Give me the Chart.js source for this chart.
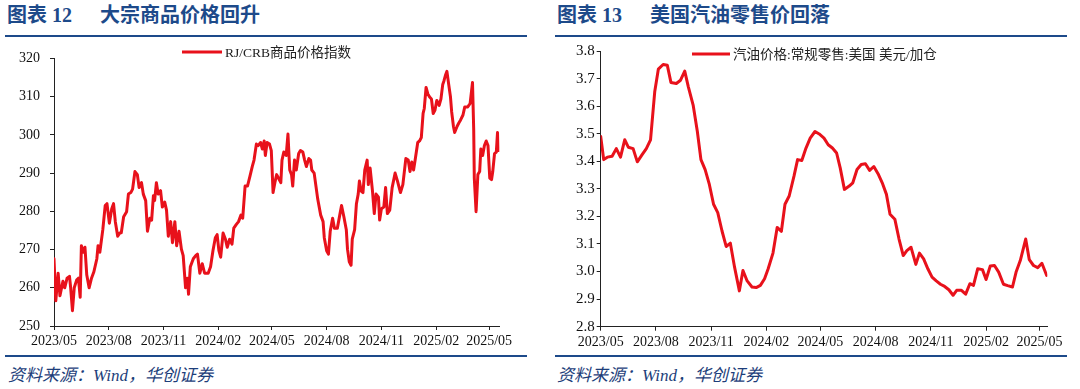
<!DOCTYPE html>
<html><head><meta charset="utf-8">
<script src="https://cdn.jsdelivr.net/npm/chart.js@4/dist/chart.umd.min.js"></script>
<style>
html,body{margin:0;padding:0;background:#fff;}
body{width:1080px;height:389px;position:relative;overflow:hidden;}
.t{position:absolute;top:5px;line-height:20px;font-weight:bold;font-size:20px;color:#1d4a8a;font-family:'Liberation Serif','Noto Sans CJK SC',serif;white-space:nowrap;}
.rule{position:absolute;height:2px;background:#1d4a8a;}
.src{position:absolute;top:366px;line-height:20px;font-size:17px;font-style:italic;color:#1d3e7a;font-family:'Liberation Serif','Noto Sans CJK SC',serif;white-space:nowrap;}
.box{position:absolute;top:40px;width:540px;height:315px;}
</style></head>
<body>
<div class="t" style="left:7px">图表 12</div>
<div class="t" style="left:100px">大宗商品价格回升</div>
<div class="t" style="left:557px">图表 13</div>
<div class="t" style="left:650px">美国汽油零售价回落</div>
<div class="rule" style="left:5px;width:522px;top:35px"></div>
<div class="rule" style="left:555px;width:512px;top:35px"></div>
<div class="rule" style="left:5px;width:522px;top:355px"></div>
<div class="rule" style="left:555px;width:512px;top:355px"></div>
<div class="src" style="left:8px">资料来源：Wind，华创证券</div>
<div class="src" style="left:557px">资料来源：Wind，华创证券</div>
<div class="box" style="left:0"><canvas id="c1" width="540" height="315"></canvas></div>
<div class="box" style="left:540px"><canvas id="c2" width="540" height="315"></canvas></div>
<script>
// Tick labels (quarterly)
const tickLabels = ['2023/05','2023/08','2023/11','2024/02','2024/05','2024/08','2024/11','2025/02','2025/05'];

// RJ/CRB commodity index — x = days since 2023-05-01
const rjLabel = 'RJ/CRB商品价格指数';
const rjDays = [0,3,7,10,15,18,22,26,28,31,34,38,41,44,46,49,52,55,59,63,67,72,74,77,82,86,89,93,97,100,103,107,111,113,117,122,125,129,132,136,140,143,147,150,154,157,161,164,167,169,172,175,179,182,186,189,192,196,199,203,206,210,214,217,221,224,226,229,234,238,241,245,249,253,259,263,267,271,274,277,280,284,288,291,295,299,302,306,310,314,317,321,325,329,333,336,340,343,347,350,353,355,358,362,365,368,371,374,377,381,383,386,390,393,396,399,401,404,407,411,414,418,421,424,428,431,433,437,440,443,448,452,454,458,461,464,468,471,476,480,483,487,491,493,496,499,501,505,508,511,513,516,519,522,526,528,531,535,538,541,545,547,550,554,557,560,564,568,573,577,582,586,591,595,598,601,604,607,611,614,617,620,622,625,628,631,634,637,640,643,647,650,653,655,658,660,663,666,668,671,673,677,680,683,687,690,695,699,703,705,706,709,712,715,717,720,723,726,729,732,735,737,740,743,745,747];
const rjValues = [267.6,256.6,263.8,257.9,261.7,260.0,262.5,263.0,260.0,254.0,260.0,262.0,262.5,257.5,271.0,269.3,270.6,263.4,260.0,262.5,264.2,267.6,271.0,269.3,275.2,281.5,282.0,276.9,280.7,282.0,277.3,273.5,274.4,274.4,278.6,279.9,284.5,284.9,285.8,290.4,289.6,286.2,287.5,284.5,282.8,274.8,278.2,277.7,284.1,282.8,287.5,284.5,285.4,281.1,282.4,280.3,273.5,277.3,271.8,277.3,271.0,274.8,270.1,268.4,260.0,262.5,258.3,265.5,267.6,268.4,268.8,263.8,266.3,263.8,263.8,265.5,269.7,273.1,273.9,269.7,268.0,274.3,272.7,270.6,272.7,271.4,275.6,276.5,277.3,279.0,278.2,286.6,286.6,289.1,291.7,293.4,297.6,297.2,298.0,296.3,298.4,294.6,298.0,297.6,295.9,284.9,287.5,289.6,288.7,287.5,293.4,295.5,294.6,300.2,290.8,289.6,286.6,293.4,290.8,295.1,295.9,295.5,293.4,291.7,293.8,293.4,290.8,290.0,286.6,283.2,279.0,277.3,273.1,269.7,268.8,274.8,278.2,275.6,275.6,279.0,281.5,278.5,275.2,270.1,266.8,265.9,272.7,275.2,282.0,284.5,287.9,285.3,284.9,290.8,293.4,287.0,291.3,285.3,279.4,284.5,283.7,277.7,280.7,281.1,286.2,279.4,280.3,286.2,290.0,287.9,284.9,287.0,293.8,293.4,290.4,292.9,290.8,293.8,298.0,298.4,299.3,305.6,306.9,312.4,310.7,309.9,309.4,305.6,306.5,309.0,307.7,309.4,313.2,314.1,315.8,316.6,313.2,309.9,306.0,302.2,300.6,302.2,303.1,303.9,305.2,307.3,307.3,308.2,313.7,301.4,288.7,279.9,289.6,290.4,296.3,294.6,297.2,298.4,297.2,288.7,288.3,290.4,295.1,295.5,300.6,295.9];

// US regular gasoline retail price (USD/gal) — x = days since 2023-05-01
const gasLabel = '汽油价格:常规零售:美国 美元/加仓';
const gasDays = [0,5,11,19,26,33,40,46,54,61,69,76,83,90,96,104,111,117,126,133,140,146,154,161,167,174,181,188,195,202,209,216,223,231,237,244,252,259,266,273,279,287,294,301,307,314,322,328,335,342,349,357,364,372,379,386,393,399,406,414,420,427,434,441,448,455,462,469,476,482,490,497,504,510,517,525,531,538,545,552,559,566,573,580,587,593,601,608,615,621,628,636,642,649,656,663,671,678,686,692,699,708,714,721,728,735,743];
const gasValues = [3.490,3.406,3.415,3.418,3.446,3.415,3.478,3.451,3.446,3.398,3.424,3.446,3.478,3.652,3.734,3.751,3.748,3.686,3.682,3.694,3.727,3.670,3.604,3.508,3.406,3.370,3.316,3.244,3.214,3.148,3.091,3.103,3.016,2.930,3.004,2.966,2.944,2.942,2.950,2.974,3.010,3.067,3.160,3.146,3.244,3.274,3.346,3.406,3.403,3.448,3.484,3.508,3.499,3.484,3.460,3.448,3.430,3.376,3.298,3.310,3.322,3.370,3.388,3.391,3.367,3.381,3.355,3.322,3.280,3.208,3.190,3.118,3.058,3.076,3.088,3.026,3.067,3.046,3.010,2.980,2.966,2.954,2.946,2.934,2.914,2.932,2.932,2.918,2.956,2.950,3.010,3.007,2.971,3.020,3.022,2.998,2.954,2.949,2.944,2.998,3.040,3.118,3.043,3.022,3.014,3.030,2.986];

function labelToDay(l){
  const p = l.split('/').map(Number);
  return Math.round((Date.UTC(p[0], p[1]-1, 1) - Date.UTC(2023, 4, 1)) / 86400000);
}
const tickDays = tickLabels.map(labelToDay);

const RED = '#E8111B';
const TICK_FONT = {family:"'Liberation Serif', 'Times New Roman', serif", size:14};

const lineLegend = {
  id:'lineLegend',
  afterDraw(chart, args, o){
    const ctx = chart.ctx, ds = chart.data.datasets[0];
    ctx.save();
    ctx.strokeStyle = ds.borderColor; ctx.lineWidth = 3;
    ctx.beginPath(); ctx.moveTo(o.x1, o.y); ctx.lineTo(o.x2, o.y); ctx.stroke();
    ctx.fillStyle = '#222';
    ctx.font = "13.5px 'Liberation Serif', 'Noto Sans CJK SC', serif";
    ctx.textBaseline = 'middle'; ctx.textAlign = 'left';
    ctx.fillText(ds.label, o.x2 + 3, o.y + 1);
    ctx.restore();
  }
};

function makeChart(id, label, days, values, c){
  return new Chart(document.getElementById(id), {
    type:'line',
    data:{datasets:[{label, data: days.map((d,i)=>({x:d, y:values[i]})), borderColor:RED, backgroundColor:RED,
      borderWidth:3, pointRadius:0, tension:0, borderJoinStyle:'round', borderCapStyle:'round', fill:false}]},
    options:{
      responsive:false, animation:false, devicePixelRatio:1,
      layout:{padding:{top:c.top, right:c.right, left:0, bottom:0}},
      plugins:{legend:{display:false}, tooltip:{enabled:false}, lineLegend:c.legend},
      scales:{
        x:{type:'linear', min:0, max:c.xMax,
          afterBuildTicks:s=>{ s.ticks = tickDays.map(v=>({value:v})); },
          afterFit:s=>{ s.height = c.xH; },
          grid:{drawOnChartArea:false, drawTicks:true, tickLength:4, color:'#222'},
          border:{display:true, color:'#222', width:1},
          ticks:{font:TICK_FONT, color:'#111', padding:3, maxRotation:0, autoSkip:false,
            callback:(v,i)=>tickLabels[i]}
        },
        y:{min:c.yMin, max:c.yMax,
          afterFit:s=>{ s.width = c.yW; },
          grid:{drawOnChartArea:false, drawTicks:true, tickLength:4, color:'#222'},
          border:{display:true, color:'#222', width:1},
          ticks:{font:{family:TICK_FONT.family, size:c.yFont}, color:'#111', padding:c.yPad, stepSize:c.step,
            callback:v=>c.fmt(v)}
        }
      }
    },
    plugins:[lineLegend]
  });
}

makeChart('c1', rjLabel, rjDays, rjValues, {
  top:10, right:40.7, xH:29, yW:54, yPad:10, yFont:14, xMax:748, yMin:250, yMax:320, step:10,
  fmt:v=>String(Math.round(v)), legend:{x1:182, x2:222, y:12}
});
makeChart('c2', gasLabel, gasDays, gasValues, {
  top:9, right:32.7, xH:28.3, yW:60.7, yPad:2, yFont:15, xMax:744, yMin:2.8, yMax:3.8, step:0.1,
  fmt:v=>v.toFixed(1), legend:{x1:152, x2:190, y:14}
});
</script>
</body></html>
